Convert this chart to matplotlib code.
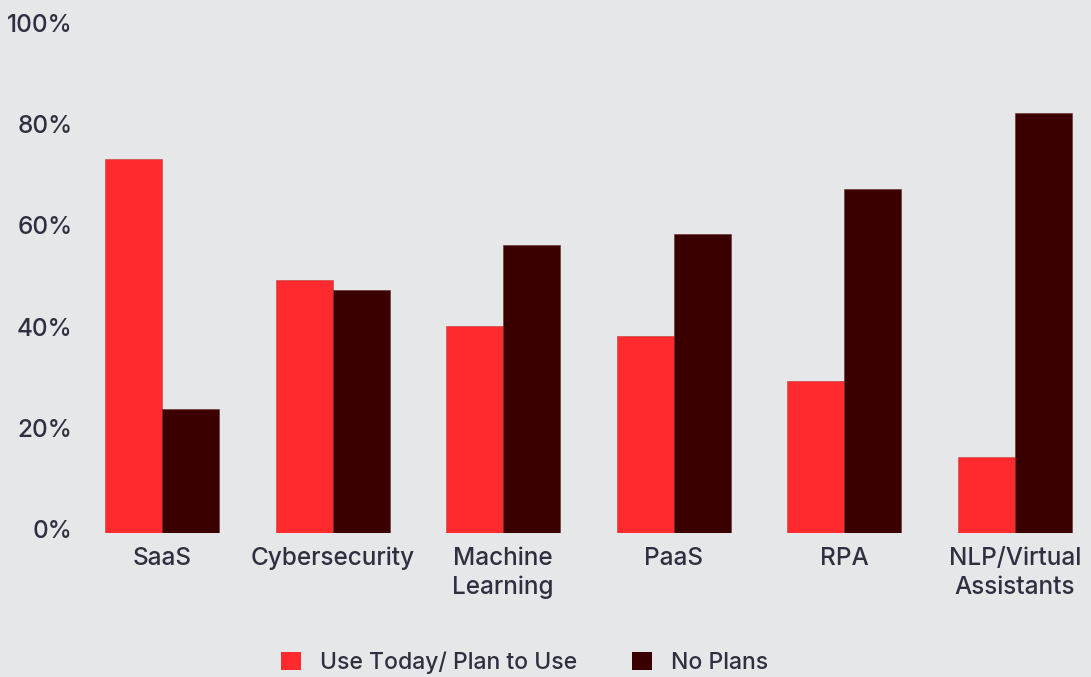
import matplotlib
matplotlib.use("Agg")
import matplotlib.pyplot as plt
import numpy as np
from matplotlib.patches import Patch
import matplotlib.transforms as mtransforms

categories = ["SaaS", "Cybersecurity", "Machine\nLearning", "PaaS", "RPA", "NLP/Virtual\nAssistants"]
use_today = [74, 50, 41, 39, 30, 15]
no_plans = [24.5, 48, 57, 59, 68, 83]
yticks = [0, 20, 40, 60, 80, 100]
ytick_labels = ["0%", "20%", "40%", "60%", "80%", "100%"]
series_names = ["Use Today/ Plan to Use", "No Plans"]

BG = "#e6e7e9"
RED = "#ff2a2d"
DARK = "#3a0000"
TXT = "#2e3040"

plt.rcParams['font.family'] = ['Inter', 'DejaVu Sans']
plt.rcParams['font.weight'] = 'medium'
FS = 17.5

fig = plt.figure(figsize=(10.91, 6.77), dpi=100, facecolor=BG)
W, H = 1091, 677
ax = fig.add_axes([82 / W, (H - 533) / H, 1 - 82 / W, (533 - 27) / H])
ax.set_facecolor(BG)

x = np.arange(len(categories))
w = 0.334
ax.bar(x - w / 2, use_today, width=w, color=RED, edgecolor="#c03a3a", linewidth=0.4)
ax.bar(x + w / 2, no_plans, width=w, color=DARK, edgecolor="#6a2a2a", linewidth=0.4)

ax.set_xlim(-0.469, 5.445)
ax.set_ylim(0, 100)
ax.set_yticks(yticks)
ax.set_yticklabels(ytick_labels)
ax.set_xticks(x)
ax.set_xticklabels(categories, linespacing=1.32)
ax.tick_params(axis='both', length=0, labelsize=FS, labelcolor=TXT)
ax.tick_params(axis='x', pad=10)
ax.tick_params(axis='y', pad=7)
off = mtransforms.ScaledTranslation(0, 4 / 100, fig.dpi_scale_trans)
for lab in ax.get_yticklabels():
    lab.set_transform(lab.get_transform() + off)
for s in ax.spines.values():
    s.set_visible(False)

handles = [Patch(facecolor=RED, edgecolor='none'), Patch(facecolor=DARK, edgecolor='none')]
fig.legend(handles, series_names, loc='center', bbox_to_anchor=(0.481, 0.0207),
           ncol=2, frameon=False, fontsize=16.5, labelcolor=TXT,
           handlelength=0.85, handleheight=0.85, handletextpad=0.85, columnspacing=2.4)

fig.savefig("out.png", dpi=100, facecolor=BG)
